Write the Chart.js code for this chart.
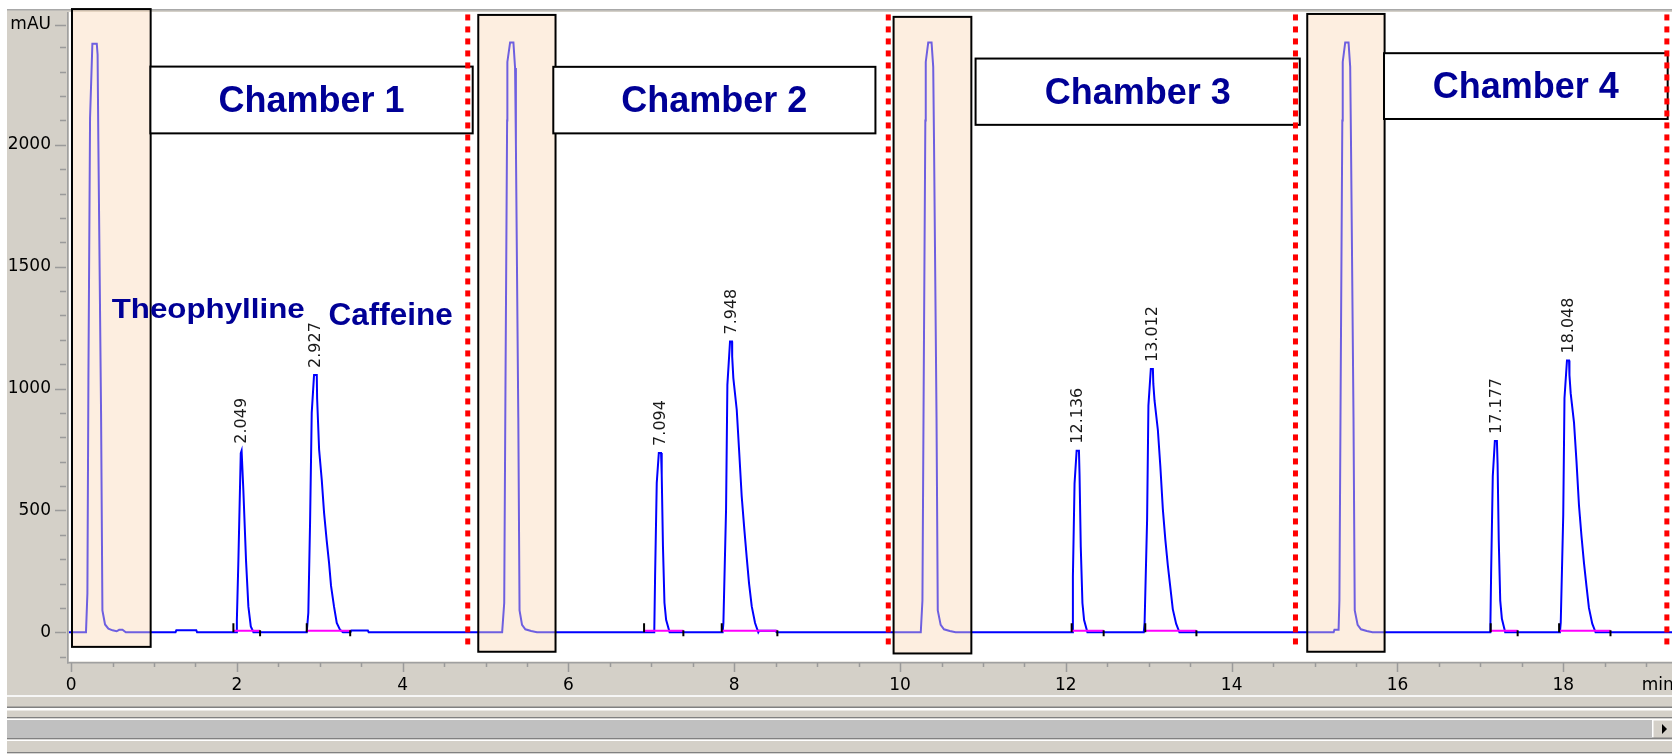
<!DOCTYPE html>
<html><head><meta charset="utf-8">
<script src="https://cdn.jsdelivr.net/npm/chart.js@4.4.0/dist/chart.umd.min.js"></script>
<style>html,body{margin:0;padding:0;background:#fff;overflow:hidden}canvas{display:block}</style>
</head><body>
<canvas id="c" width="1672" height="755"></canvas>
<script>
// ---- data (time in min, signal in mAU) ----
const chamber1Min = [-0.03,0.18,0.197,0.209,0.229,0.257,0.31,0.32,0.329,0.362,0.378,0.41,0.45,0.5,0.55,0.58,0.62,0.66,1.26,1.27,1.51,1.52,1.99,2.0,2.018,2.047,2.057,2.078,2.111,2.139,2.168,2.2,2.843,2.862,2.883,2.903,2.931,2.964,2.968,2.992,3.024,3.052,3.084,3.112,3.136,3.172,3.205,3.245,3.28,3.37,3.38,3.58,3.59];
const chamber1MAU = [0,0,160,1030,2110,2415,2415,2370,2015,890,90,32,15,8,4,10,10,0,0,8,8,0,0,50,290,735,745,585,290,105,24,0,0,80,450,900,1056,1056,960,750,625,490,375,285,190,105,38,10,0,0,7,7,0];
const chamber2Min = [5.2,5.225,5.24,5.26,5.263,5.296,5.336,5.356,5.366,5.395,5.41,5.44,5.48,5.55,5.62,7.035,7.045,7.065,7.09,7.117,7.125,7.14,7.158,7.178,7.22,7.86,7.869,7.901,7.917,7.949,7.973,7.975,7.989,8.03,8.058,8.09,8.122,8.151,8.178,8.211,8.251,8.29,8.3,8.5,8.51];
const chamber2MAU = [0,120,1000,2100,2340,2420,2420,2315,2000,880,90,30,12,5,0,0,229,613,736,736,646,352,121,51,0,0,38,503,1015,1193,1193,1131,1043,913,749,557,420,304,202,106,38,0,6,6,0];
const chamber3Min = [10.25,10.27,10.285,10.305,10.31,10.34,10.38,10.40,10.41,10.44,10.455,10.49,10.53,10.6,10.67,12.075,12.085,12.105,12.13,12.158,12.165,12.18,12.2,12.22,12.26,12.94,12.95,12.98,12.996,13.025,13.05,13.055,13.07,13.11,13.14,13.17,13.2,13.23,13.26,13.29,13.33,13.37];
const chamber3MAU = [0,130,1000,2100,2340,2420,2420,2320,2000,880,90,30,12,5,0,0,230,610,745,745,650,350,120,50,0,0,40,460,930,1080,1080,1020,950,830,680,505,380,275,185,95,35,0];
const chamber4Min = [15.23,15.24,15.29,15.30,15.315,15.335,15.34,15.37,15.41,15.43,15.44,15.47,15.485,15.52,15.56,15.63,15.7,17.12,17.13,17.15,17.175,17.2,17.208,17.222,17.24,17.26,17.3,17.96,17.97,18.0,18.015,18.045,18.07,18.075,18.09,18.13,18.16,18.19,18.22,18.25,18.28,18.31,18.35,18.39,19.4];
const chamber4MAU = [0,10,10,130,1000,2100,2340,2420,2420,2320,2000,880,90,30,12,5,0,0,240,640,785,785,690,380,130,55,0,0,40,480,960,1115,1115,1055,980,860,700,520,395,285,190,100,35,0,0];

const retentionTimes = [2.049,2.927,7.094,7.948,12.136,13.012,17.177,18.048];
const retentionLabels = ['2.049','2.927','7.094','7.948','12.136','13.012','17.177','18.048'];
const integrationStart = [1.958,2.843,6.912,7.849,12.07,12.958,17.125,17.95];
const integrationEnd = [2.28,3.367,7.386,8.52,12.456,13.575,17.45,18.57];
const integrationMAU = 6;

const solventBoxStart = [0.011,4.912,9.922,14.912];
const solventBoxEnd = [0.96,5.844,10.86,15.845];
const solventBoxTop = [2557,2533,2525,2537];
const solventBoxBottom = [-60,-80,-87,-80];

const chamberNames = ['Chamber 1','Chamber 2','Chamber 3','Chamber 4'];
const chamberBoxStart = [0.957,5.817,10.911,15.838];
const chamberBoxEnd = [4.845,9.703,14.822,19.26];
const chamberBoxTop = [2321,2320,2354,2376];
const chamberBoxBottom = [2047,2047,2082,2106];

const compoundNames = ['Theophylline','Caffeine'];
const compoundMin = [0.49,3.104];
const compoundMAU = [1296,1261];

const dividerMin = [4.785,9.858,14.77,19.25];
const dividerTopMAU = 2535, dividerBottomMAU = -52;

const xTickValues = [0,2,4,6,8,10,12,14,16,18];
const xUnitPos = 19.14, xUnitLabel = 'min';
const yTickValues = [0,500,1000,1500,2000,2492];
const yTickLabels = ['0','500','1000','1500','2000','mAU'];

// ---- build datasets ----
function pts(ts, vs){const n=Math.min(ts.length,vs.length),o=[];for(let i=0;i<n;i++)o.push({x:ts[i],y:vs[i]});return o;}
const trace = [].concat(pts(chamber1Min,chamber1MAU),pts(chamber2Min,chamber2MAU),pts(chamber3Min,chamber3MAU),pts(chamber4Min,chamber4MAU));
const baselinePts = [];
integrationStart.forEach((s,i)=>{baselinePts.push({x:s,y:integrationMAU},{x:integrationEnd[i],y:integrationMAU},{x:integrationEnd[i],y:null});});

function apexOf(rt){
  let best=-1, ts=[];
  trace.forEach(p=>{ if(Math.abs(p.x-rt)<0.07){ if(p.y>best){best=p.y;ts=[p.x];} else if(p.y===best) ts.push(p.x);} });
  return {x: ts.reduce((a,b)=>a+b,0)/ts.length, y: best};
}

const GRAY='#d4d0c8';
const chrome = {
  id:'chrome',
  beforeDraw(chart){
    const ctx=chart.ctx, W=chart.width, H=chart.height, ca=chart.chartArea;
    ctx.save();
    ctx.fillStyle='#fff'; ctx.fillRect(0,0,W,H);
    ctx.fillStyle=GRAY;
    ctx.fillRect(7,9,W-7,H-9);
    ctx.fillStyle='#a8a8a8'; ctx.fillRect(7,9,W-7,1.5);
    ctx.fillStyle='#fff'; ctx.fillRect(ca.left,ca.top,ca.right-ca.left,ca.bottom-ca.top);
    ctx.fillStyle='#a0a0a0'; ctx.fillRect(ca.left-2,ca.top,1.5,ca.bottom-ca.top+2);
    ctx.fillStyle='#a0a0a0'; ctx.fillRect(ca.left-2,ca.bottom+0.5,ca.right-ca.left+2,1.5);
    const rows=[[695,697,'#f6f6f6'],[706.5,708,'#808080'],[708,710.5,'#ffffff'],[717,718.5,'#808080'],[718.5,720,'#ffffff'],[720,738,'#c0c0c0'],[738,739.5,'#808080'],[739.5,741,'#ffffff'],[752,753.5,'#808080'],[753.5,755,'#ffffff']];
    rows.forEach(r=>{ctx.fillStyle=r[2];ctx.fillRect(7,r[0],W-7,r[1]-r[0]);});
    ctx.fillStyle=GRAY; ctx.fillRect(1652,719,20,20);
    ctx.fillStyle='#ffffff'; ctx.fillRect(1652,719,1.5,20); ctx.fillRect(1652,719,20,1.5);
    ctx.fillStyle='#808080'; ctx.fillRect(1652,737.5,20,1.5);
    ctx.fillStyle='#000'; ctx.beginPath(); ctx.moveTo(1662,724); ctx.lineTo(1667,729); ctx.lineTo(1662,734); ctx.closePath(); ctx.fill();
    ctx.restore();
  },
  afterDraw(chart){
    const ctx=chart.ctx, xs=chart.scales.x, ys=chart.scales.y, ca=chart.chartArea;
    ctx.save();
    ctx.strokeStyle='#9a9a9a'; ctx.lineWidth=1.5;
    const yMarks=[];
    for(let v=-100; v<=2400; v+=100) if(yTickValues.indexOf(v)<0) yMarks.push([v,false]);
    yTickValues.forEach(v=>yMarks.push([v,true]));
    yMarks.forEach(m=>{
      const y=Math.round(ys.getPixelForValue(m[0]))+0.5;
      ctx.beginPath(); ctx.moveTo(m[1]?ca.left-14:ca.left-9,y); ctx.lineTo(ca.left-3,y); ctx.stroke();
    });
    for(let t=0; t<=19; t+=0.5){
      const x=Math.round(xs.getPixelForValue(t))+0.5, major=(t%2===0);
      ctx.beginPath(); ctx.moveTo(x,ca.bottom+1.5); ctx.lineTo(x,ca.bottom+(major?10.5:5.5)); ctx.stroke();
    }
    ctx.restore();
  },
  afterDatasetsDraw(chart){
    const ctx=chart.ctx, xs=chart.scales.x, ys=chart.scales.y;
    const X=v=>xs.getPixelForValue(v), Y=v=>ys.getPixelForValue(v);
    ctx.save();
    ctx.strokeStyle='#000'; ctx.lineWidth=2;
    integrationStart.forEach((s,i)=>{
      const y0=Y(0);
      ctx.beginPath(); ctx.moveTo(X(s),y0); ctx.lineTo(X(s),y0-9); ctx.stroke();
      ctx.beginPath(); ctx.moveTo(X(integrationEnd[i]),y0-2); ctx.lineTo(X(integrationEnd[i]),y0+4); ctx.stroke();
    });
    solventBoxStart.forEach((s,i)=>{
      const x0=X(s), x1=X(solventBoxEnd[i]), y0=Y(solventBoxTop[i]), y1=Y(solventBoxBottom[i]);
      ctx.fillStyle='rgba(250,216,184,0.44)'; ctx.fillRect(x0,y0,x1-x0,y1-y0);
      ctx.strokeStyle='#000'; ctx.lineWidth=2; ctx.strokeRect(x0,y0,x1-x0,y1-y0);
    });
    chamberNames.forEach((name,i)=>{
      const x0=X(chamberBoxStart[i]), x1=X(chamberBoxEnd[i]), y0=Y(chamberBoxTop[i]), y1=Y(chamberBoxBottom[i]);
      ctx.fillStyle='#fff'; ctx.fillRect(x0,y0,x1-x0,y1-y0);
      ctx.strokeStyle='#000'; ctx.lineWidth=2; ctx.strokeRect(x0,y0,x1-x0,y1-y0);
      ctx.fillStyle='#000096'; ctx.font='bold 36px "Liberation Sans", Arial, sans-serif';
      ctx.textAlign='center'; ctx.textBaseline='middle';
      ctx.fillText(name,(x0+x1)/2,(y0+y1)/2+2);
    });
    ctx.fillStyle='#000096'; ctx.textAlign='left'; ctx.textBaseline='alphabetic';
    compoundNames.forEach((name,i)=>{
      const x=X(compoundMin[i]), y=Y(compoundMAU[i]);
      ctx.save();
      if(i===0){
        ctx.font='bold 28.5px "Liberation Sans", Arial, sans-serif';
        const w=ctx.measureText(name).width, sx=193/w;
        ctx.translate(x,y+2); ctx.scale(sx,1); ctx.fillText(name,0,0);
      } else {
        ctx.font='bold 31.5px "Liberation Sans", Arial, sans-serif';
        ctx.fillText(name,x,y);
      }
      ctx.restore();
    });
    ctx.fillStyle='#1a1a1a'; ctx.font='16px "DejaVu Sans", sans-serif';
    retentionTimes.forEach((rt,i)=>{
      const a=apexOf(rt);
      ctx.save(); ctx.translate(X(a.x)+0.5, Y(a.y)-7); ctx.rotate(-Math.PI/2);
      ctx.textAlign='left'; ctx.textBaseline='middle'; ctx.fillText(retentionLabels[i],0,0);
      ctx.restore();
    });
    ctx.strokeStyle='#ff0000'; ctx.lineWidth=5; ctx.setLineDash([6,6]); ctx.lineCap='butt';
    dividerMin.forEach(t=>{
      const x=X(t);
      ctx.beginPath(); ctx.moveTo(x,Y(dividerTopMAU)); ctx.lineTo(x,Y(dividerBottomMAU)); ctx.stroke();
    });
    ctx.restore();
  }
};

new Chart(document.getElementById('c'),{
  type:'line',
  data:{datasets:[
    {data:trace,borderColor:'#0000ff',borderWidth:2,pointRadius:0,tension:0,fill:false,order:2},
    {data:baselinePts,borderColor:'#ff00ff',borderWidth:2,pointRadius:0,tension:0,fill:false,spanGaps:false,order:1}
  ]},
  options:{
    responsive:false, animation:false, devicePixelRatio:1,
    layout:{padding:{top:12,left:0,right:0,bottom:0}},
    plugins:{legend:{display:false},tooltip:{enabled:false}},
    scales:{
      x:{type:'linear',min:-0.025,max:19.312,
        afterBuildTicks:s=>{s.ticks=xTickValues.concat([xUnitPos]).map(v=>({value:v}));},
        afterFit:s=>{s.height=93.5;s.paddingLeft=0;s.paddingRight=0;},
        grid:{display:false,drawTicks:true,tickLength:10},
        border:{display:false},
        ticks:{autoSkip:false,maxRotation:0,minRotation:0,padding:4,color:'#000',
          font:{family:'"DejaVu Sans", sans-serif',size:17},
          callback:v=>(v===xUnitPos?xUnitLabel:String(v))}
      },
      y:{type:'linear',min:-120,max:2545,
        afterBuildTicks:s=>{s.ticks=yTickValues.map(v=>({value:v}));},
        afterFit:s=>{s.width=69;s.paddingTop=0;s.paddingBottom=0;},
        grid:{display:false,drawTicks:true,tickLength:13},
        border:{display:false},
        ticks:{autoSkip:false,padding:5,color:'#000',
          font:{family:'"DejaVu Sans", sans-serif',size:17},
          callback:v=>{const i=yTickValues.indexOf(v);return i>=0?yTickLabels[i]:'';}}
      }
    }
  },
  plugins:[chrome]
});
</script>
</body></html>
